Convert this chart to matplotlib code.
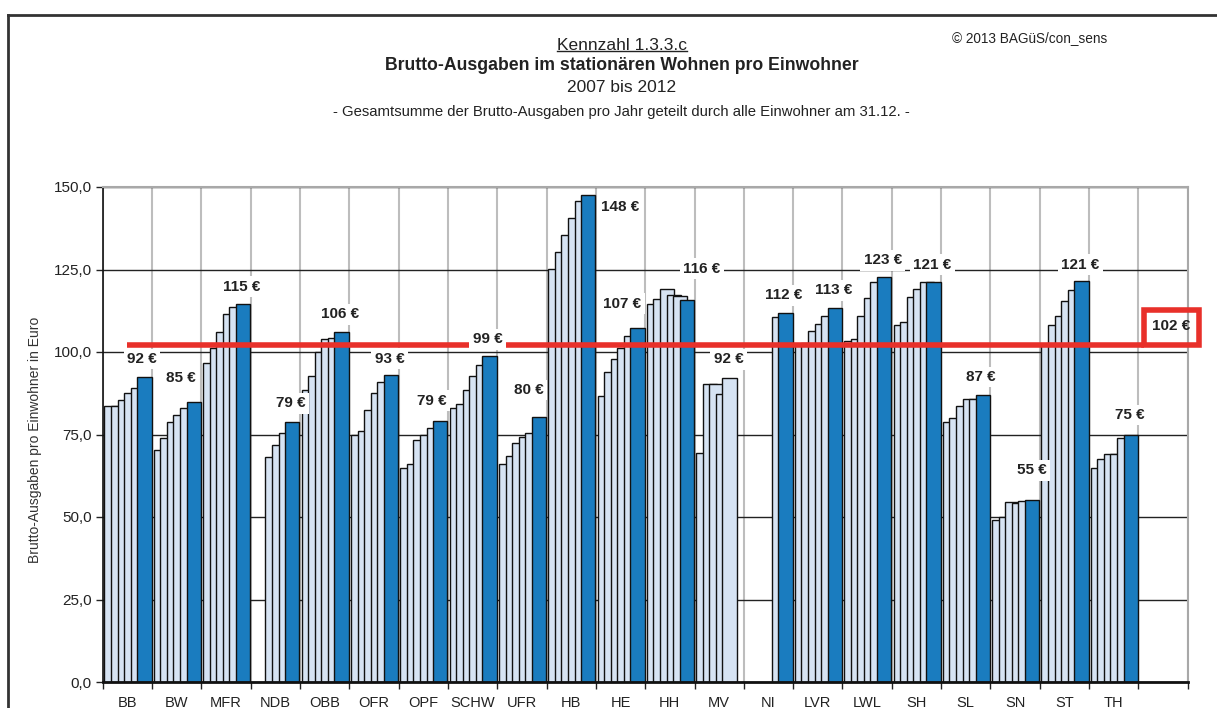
import numpy as np
import matplotlib
matplotlib.use("Agg")
import matplotlib.pyplot as plt
from matplotlib.patches import Rectangle
from matplotlib.lines import Line2D
from matplotlib.ticker import FixedLocator, FuncFormatter

plt.rcParams['font.family'] = ['Liberation Sans', 'DejaVu Sans']

# ---------------- data ----------------
categories = ["BB", "BW", "MFR", "NDB", "OBB", "OFR", "OPF", "SCHW", "UFR", "HB", "HE",
              "HH", "MV", "NI", "LVR", "LWL", "SH", "SL", "SN", "ST", "TH", ""]
years = [2007, 2008, 2009, 2010, 2011, 2012]
nan = np.nan
v2007 = [83.6, 70.2, 96.7, nan, 88.6, 75.0, 64.8, 82.9, 66.1, 125.3, 86.8, 114.6, 69.4, nan,
         102.2, 103.4, 108.3, 78.7, 49.2, 102.3, 64.7, nan]
v2008 = [83.5, 73.9, 101.3, nan, 92.6, 76.0, 66.1, 84.2, 68.5, 130.2, 94.0, 116.0, 90.3, nan,
         102.8, 103.9, 109.1, 79.9, 50.0, 108.3, 67.5, nan]
v2009 = [85.6, 78.7, 106.1, 68.1, 100.0, 82.4, 73.4, 88.6, 72.4, 135.6, 98.0, 119.1, 90.3, nan,
         106.5, 111.0, 116.8, 83.5, 54.5, 111.0, 69.2, nan]
v2010 = [87.7, 80.9, 111.4, 71.7, 103.8, 87.7, 74.7, 92.6, 74.2, 140.6, 101.1, 117.3, 87.3, nan,
         108.6, 116.4, 119.1, 85.8, 54.3, 115.4, 69.2, nan]
v2011 = [89.0, 83.1, 113.7, 75.6, 104.3, 90.8, 76.9, 96.1, 75.5, 145.9, 104.8, 117.1, 92.1, 110.6,
         111.0, 121.3, 121.2, 85.8, 55.0, 118.7, 74.0, nan]
v2012 = [92.4, 85.0, 114.6, 78.7, 106.0, 93.0, 79.1, 98.7, 80.4, 147.6, 107.4, 115.8, nan, 111.9,
         113.2, 122.6, 121.2, 87.1, 55.1, 121.4, 75.0, nan]
label_values = [92, 85, 115, 79, 106, 93, 79, 99, 80, 148, 107, 116, 92, 112, 113, 123, 121,
                87, 55, 121, 75]
average = 102
y_ticks = [0, 25, 50, 75, 100, 125, 150]

series = [v2007, v2008, v2009, v2010, v2011, v2012]

# ---------------- layout / style ----------------
light = "#d6e3f3"
dark = "#1a7cbf"
red = "#e8302a"
bar_start = 0.035
bar_step = 0.133
bar_width = 0.29

# label offsets relative to the last bar of each group (x in slot units, y in data units)
label_dx = [-0.05, -0.27, -0.02, -0.04, -0.03, -0.03, -0.17, -0.04, -0.21, 0.64, -0.31, 0.30,
            -0.02, -0.03, -0.03, -0.03, -0.02, -0.03, 0.0, -0.02, -0.02]
label_dy = [5.5, 7.2, 5.2, 5.7, 5.4, 5.0, 6.2, 5.1, 8.1, -3.7, 7.2, 9.4, 5.7, 5.3, 5.5, 5.2,
            5.3, 5.3, 9.1, 5.1, 5.9]

fig = plt.figure(figsize=(12.17, 7.08), dpi=100)
ax = fig.add_axes([102.7 / 1217, 1 - 682 / 708, 1085 / 1217, 495 / 708])

n = len(categories)
for k, vals in enumerate(series):
    xs, hs = [], []
    for i, v in enumerate(vals):
        if not np.isnan(v):
            xs.append(i + bar_start + k * bar_step)
            hs.append(v)
    ax.bar(xs, hs, width=bar_width, align='edge',
           color=dark if k == len(series) - 1 else light,
           edgecolor='#111111', linewidth=1.0, zorder=2 + k * 0.01)

# average line and box
ax.plot([0.486, 21.12], [average, average], color=red, lw=4.0, solid_capstyle='butt',
        zorder=3)
box = Rectangle((21.12, average), 1.10, 10.6, fill=False, ec=red, lw=4.0, zorder=3,
                clip_on=False, joinstyle='miter')
ax.add_patch(box)
ax.text(21.67, average + 5.9, f"{average} €", ha='center', va='center', fontsize=11,
        fontweight='bold', color='#222222', zorder=5)

# value labels
for i, lv in enumerate(label_values):
    last_k = max(k for k in range(len(series)) if not np.isnan(series[k][i]))
    xc = i + bar_start + last_k * bar_step + bar_width / 2 + label_dx[i]
    yc = series[last_k][i] + label_dy[i]
    ax.text(xc, yc, f"{lv} €", ha='center', va='center', fontsize=11, fontweight='bold',
            color='#222222', zorder=5,
            bbox=dict(boxstyle='square,pad=0.22', fc='white', ec='none'))

ax.set_xlim(0, n)
ax.set_ylim(0, 150)

# y axis
ax.yaxis.set_major_locator(FixedLocator(y_ticks))
ax.yaxis.set_major_formatter(FuncFormatter(lambda v, p: f"{v:.1f}".replace('.', ',')))
ax.tick_params(axis='y', direction='out', length=5, width=1, labelsize=11, colors='#222222',
               pad=3)
ax.yaxis.grid(True, color='#222222', lw=1.0, zorder=0)

# x axis: ticks at boundaries, labels at centres
ax.set_xticks(np.arange(0, n + 1))
ax.set_xticklabels([])
ax.set_xticks(np.arange(n) + 0.5, minor=True)
ax.set_xticklabels(categories, minor=True, fontsize=10.5, color='#222222')
ax.tick_params(axis='x', which='major', direction='out', length=5, width=1, colors='#222222')
ax.tick_params(axis='x', which='minor', length=0, pad=10)
ax.xaxis.grid(True, which='major', color='#bdbdbd', lw=1.5, zorder=0)
ax.set_axisbelow(True)

for s in ['top', 'right']:
    ax.spines[s].set_color('#a8a8a8')
    ax.spines[s].set_linewidth(1.5)
ax.spines['left'].set_color('#111111')
ax.spines['left'].set_linewidth(1.2)
ax.spines['bottom'].set_color('#111111')
ax.spines['bottom'].set_linewidth(2.0)

fig.text(35 / 1217, 1 - 440 / 708, "Brutto-Ausgaben pro Einwohner in Euro", rotation=90,
         ha='center', va='center', fontsize=10, color='#333333')

# titles
cx = 622 / 1217
t1 = fig.text(cx, 1 - 45 / 708, "Kennzahl 1.3.3.c", ha='center', va='center', fontsize=12.5,
              color='#222222')
fig.text(cx, 1 - 66 / 708, "Brutto-Ausgaben im stationären Wohnen pro Einwohner",
         ha='center', va='center', fontsize=12.7, fontweight='bold', color='#222222')
fig.text(cx, 1 - 88 / 708, "2007 bis 2012", ha='center', va='center', fontsize=12.5,
         color='#222222')
fig.text(621 / 1217, 1 - 112 / 708,
         "- Gesamtsumme der Brutto-Ausgaben pro Jahr geteilt durch alle Einwohner am 31.12. -",
         ha='center', va='center', fontsize=10.7, color='#222222')
fig.text(1030 / 1217, 1 - 38 / 708, "© 2013 BAGüS/con_sens", ha='center', va='center',
         fontsize=9.8, color='#222222')

# frame lines of the page
fig.add_artist(Line2D([8 / 1217, 1], [1 - 15 / 708, 1 - 15 / 708], color='#333333', lw=2))
fig.add_artist(Line2D([8 / 1217, 8 / 1217], [0, 1 - 15 / 708], color='#333333', lw=2))

# underline the first title line
fig.canvas.draw()
bb = t1.get_window_extent(fig.canvas.get_renderer())
inv = fig.transFigure.inverted()
(x0, y0), (x1, y1) = inv.transform([[bb.x0, bb.y0], [bb.x1, bb.y1]])
fig.add_artist(Line2D([x0, x1], [y0 + 0.002, y0 + 0.002], color='#222222', lw=1))

fig.savefig("out.png", dpi=100)
